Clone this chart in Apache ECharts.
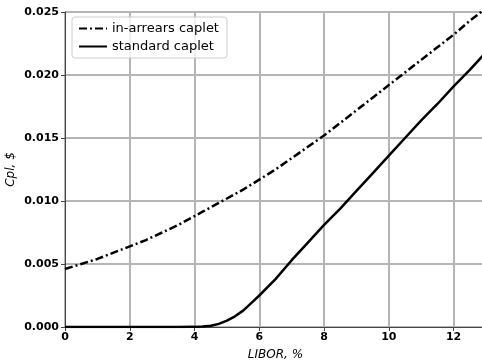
<!DOCTYPE html>
<html>
<head>
<meta charset="utf-8">
<script src="https://cdn.jsdelivr.net/npm/echarts@6/dist/echarts.min.js"></script>
<style>
html,body{margin:0;padding:0;background:#fff;}
#chart{width:482px;height:364px;}
</style>
</head>
<body>
<div id="chart"></div>
<script>
const libor = [0,0.5,1,1.5,2,2.5,3,3.5,4,4.25,4.5,4.75,5,5.25,5.5,5.75,6,6.5,7,7.5,8,8.5,9,9.5,10,10.5,11,11.5,12,12.5,13];
const inArrears = [0.0046,0.0050,0.0054,0.0059,0.0064,0.0069,0.0075,0.0081,0.0088,0.00915,0.0095,0.00985,0.0102,0.01055,0.0109,0.0113,0.0117,0.0125,0.0134,0.0143,0.0152,0.0162,0.0172,0.0182,0.0192,0.0202,0.0212,0.0222,0.0232,0.0243,0.0253];
const standard = [0,0,0,0,0,0,0,0,0.00001,0.00004,0.0001,0.00025,0.0005,0.00085,0.0013,0.0019,0.0025,0.0038,0.0053,0.0067,0.0081,0.0094,0.0108,0.0122,0.0136,0.0150,0.0164,0.0177,0.0191,0.0204,0.0218];
const seriesNames = ['in-arrears caplet','standard caplet'];
const xTicks = [0,2,4,6,8,10,12];
const yTicks = [0,0.005,0.010,0.015,0.020,0.025];

const chart = echarts.init(document.getElementById('chart'));
const font = 'DejaVu Sans';
chart.setOption({
  animation:false,
  grid:{left:65,top:12,right:-4,bottom:37,show:true,borderColor:'#444',borderWidth:1,containLabel:false,outerBoundsMode:'none'},
  legend:{
    left:72,top:17,orient:'vertical',
    itemWidth:28,itemHeight:12,itemGap:5,
    backgroundColor:'rgba(255,255,255,0.8)',borderColor:'#cccccc',borderWidth:1,borderRadius:3,
    padding:[5,8,5,6],
    itemStyle:{opacity:0},
    textStyle:{fontFamily:font,fontSize:13,color:'#000'},
    data:seriesNames
  },
  xAxis:{
    type:'value',min:0,max:13,interval:2,
    name:'LIBOR, %',nameLocation:'middle',nameGap:22,nameMoveOverlap:false,
    nameTextStyle:{fontFamily:font,fontSize:12,fontStyle:'italic',color:'#000'},
    axisLine:{show:true,lineStyle:{color:'#444',width:1}},
    axisTick:{show:true,length:4,lineStyle:{color:'#444'}},
    axisLabel:{fontFamily:font,fontSize:11,fontWeight:'bold',color:'#000',margin:5,showMaxLabel:false,
      formatter:v=>xTicks.includes(v)?String(v):''},
    splitLine:{show:true,lineStyle:{color:'#b5b5b5',width:2}}
  },
  yAxis:{
    type:'value',min:0,max:0.025,interval:0.005,
    name:'Cpl, $',nameLocation:'middle',nameGap:48,nameMoveOverlap:false,
    nameTextStyle:{fontFamily:font,fontSize:12,fontStyle:'italic',color:'#000'},
    axisLine:{show:true,lineStyle:{color:'#444',width:1}},
    axisTick:{show:true,length:4,lineStyle:{color:'#444'}},
    axisLabel:{fontFamily:font,fontSize:11,fontWeight:'bold',color:'#000',margin:6,
      formatter:v=>v.toFixed(3)},
    splitLine:{show:true,lineStyle:{color:'#b5b5b5',width:2}}
  },
  series:[
    {name:seriesNames[0],type:'line',showSymbol:false,symbol:'none',smooth:false,
      data:libor.map((x,i)=>[x,inArrears[i]]),
      lineStyle:{color:'#000',width:2.5,type:[8,3,2,3]},itemStyle:{color:'#000'}},
    {name:seriesNames[1],type:'line',showSymbol:false,symbol:'none',smooth:false,
      data:libor.map((x,i)=>[x,standard[i]]),
      lineStyle:{color:'#000',width:2.5,type:'solid'},itemStyle:{color:'#000'}}
  ]
});
</script>
</body>
</html>
